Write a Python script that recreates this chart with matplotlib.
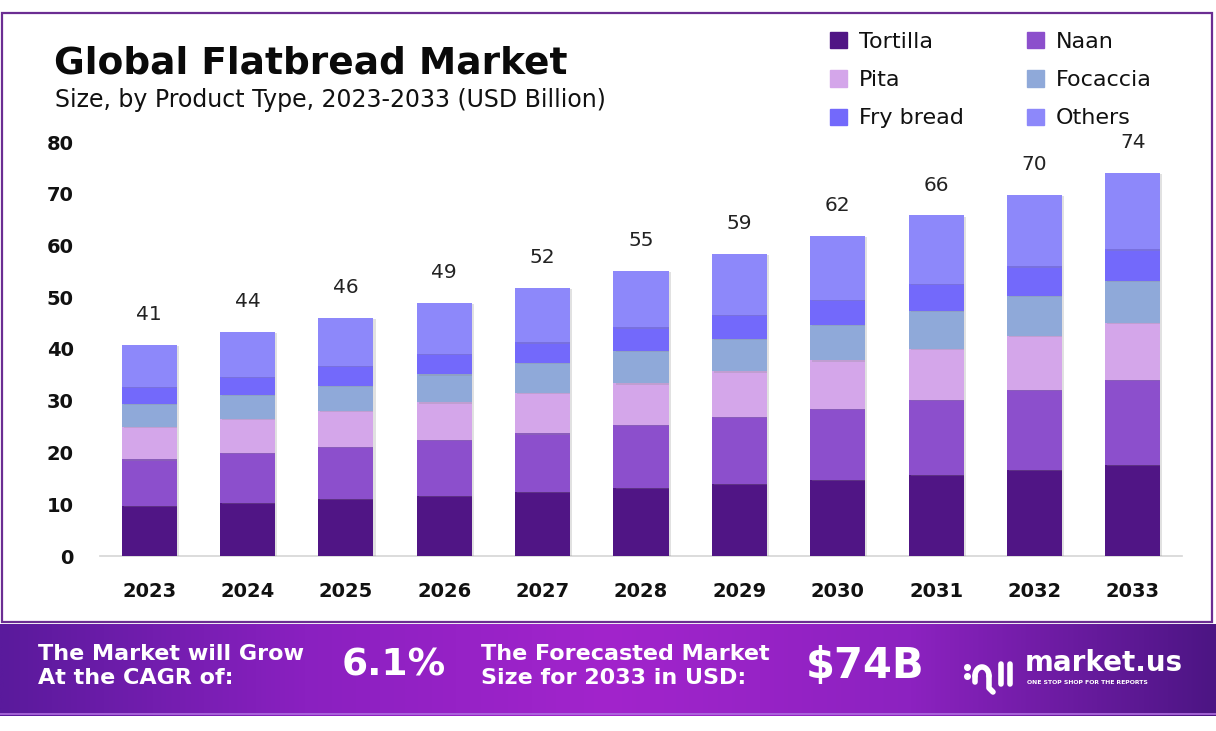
import numpy as np
import matplotlib
matplotlib.use("Agg")
import matplotlib.pyplot as plt
from matplotlib.colors import LinearSegmentedColormap
from matplotlib.patches import Rectangle, Patch
import matplotlib.patheffects as pe

plt.rcParams['font.family'] = ['DejaVu Sans']

# data (USD Billion)
years = ['2023', '2024', '2025', '2026', '2027', '2028',
         '2029', '2030', '2031', '2032', '2033']
tortilla = [9.7, 10.3, 11.0, 11.6, 12.4, 13.2, 13.9, 14.7, 15.7, 16.6, 17.6]
naan = [9.0, 9.6, 10.1, 10.8, 11.3, 12.1, 13.0, 13.7, 14.5, 15.5, 16.4]
pita = [6.3, 6.6, 7.0, 7.3, 7.8, 8.1, 8.8, 9.4, 9.8, 10.5, 11.1]
focaccia = [4.4, 4.6, 4.8, 5.4, 5.8, 6.3, 6.3, 6.9, 7.4, 7.7, 8.1]
fry_bread = [3.3, 3.5, 3.8, 4.0, 4.0, 4.5, 4.6, 4.8, 5.2, 5.7, 6.1]
others = [8.1, 8.7, 9.3, 9.8, 10.5, 10.9, 11.8, 12.4, 13.2, 13.8, 14.7]
totals = [41, 44, 46, 49, 52, 55, 59, 62, 66, 70, 74]

series = [('Tortilla', tortilla, '#501585'),
          ('Naan', naan, '#8c4fcc'),
          ('Pita', pita, '#d4a6ea'),
          ('Focaccia', focaccia, '#8fa9d9'),
          ('Fry bread', fry_bread, '#7369fb'),
          ('Others', others, '#8d88fa')]

W, H = 1216, 731
fig = plt.figure(figsize=(W / 100, H / 100), dpi=100)
fig.patch.set_facecolor('white')

# outer frame
fig.add_artist(Rectangle((1.5 / W, 1 - 622 / H), (1212 - 1.5) / W, (622 - 13) / H,
                         transform=fig.transFigure, fill=False,
                         edgecolor='#6b2d92', linewidth=1.6))

ax = fig.add_axes([100 / W, 1 - 556 / H, 1082 / W, (556 - 142) / H])
x = np.arange(len(years))
bottom = np.zeros(len(years))
handles = {}
for name, vals, col in series:
    bars = ax.bar(x, vals, 0.56, bottom=bottom, color=col, label=name, zorder=3)
    for b in bars:
        b.set_path_effects([pe.SimplePatchShadow(offset=(1.5, -1), shadow_rgbFace='#888888', alpha=0.25),
                            pe.Normal()])
    handles[name] = Patch(color=col, label=name)
    bottom += np.array(vals)

for xi, top, t in zip(x, bottom, totals):
    ax.annotate(str(t), (xi, top), xytext=(0, 15), textcoords='offset points',
                ha='center', va='bottom', fontsize=14.5, color='#222222')

ax.set_xlim(-0.5, len(years) - 0.5)
ax.set_ylim(0, 80)
ax.set_yticks(range(0, 81, 10))
ax.set_xticks(x)
ax.set_xticklabels(years)
ax.tick_params(axis='both', length=0, labelsize=14, colors='#111111')
ax.tick_params(axis='y', pad=19)
ax.tick_params(axis='x', pad=19)
for lab in ax.get_xticklabels() + ax.get_yticklabels():
    lab.set_fontweight('bold')
for s in ['top', 'right', 'left']:
    ax.spines[s].set_visible(False)
ax.spines['bottom'].set_color('#d5d5d5')
ax.spines['bottom'].set_linewidth(1.2)

# titles
fig.text(54 / W, 1 - 64 / H, 'Global Flatbread Market', fontsize=27, fontweight='bold',
         va='center', ha='left', color='#0a0a0a')
fig.text(55 / W, 1 - 100 / H, 'Size, by Product Type, 2023-2033 (USD Billion)', fontsize=17,
         va='center', ha='left', color='#111111')

# legend
order = ['Tortilla', 'Pita', 'Fry bread', 'Naan', 'Focaccia', 'Others']
fig.legend([handles[n] for n in order], order, ncol=2, loc='upper left',
           bbox_to_anchor=(810 / W, 1 - 12 / H), frameon=False, fontsize=16,
           handlelength=0.75, handleheight=0.75, handletextpad=0.55,
           columnspacing=2.85, labelspacing=0.82, labelcolor='#111111')

# footer banner
bax = fig.add_axes([0, 1 - 716 / H, 1, (716 - 624) / H])
cmap = LinearSegmentedColormap.from_list('banner', ['#5a1a9c', '#8a20c0', '#a224cc', '#8c22c0', '#4c1584'])
grad = np.linspace(0, 1, 512).reshape(1, -1)
bax.imshow(grad, aspect='auto', cmap=cmap, extent=[0, 1, 0, 1])
bax.set_xlim(0, 1)
bax.set_ylim(0, 1)
bax.axis('off')
bax.axhline(0.02, color='#b070e0', linewidth=1.2)

txt_kw = dict(color='white', fontweight='bold', va='center', ha='left')
fig.text(38 / W, 1 - 666 / H, 'The Market will Grow\nAt the CAGR of:', fontsize=16,
         linespacing=1.3, **txt_kw)
fig.text(342 / W, 1 - 666 / H, '6.1%', fontsize=27, **txt_kw)
fig.text(481 / W, 1 - 666 / H, 'The Forecasted Market\nSize for 2033 in USD:', fontsize=16,
         linespacing=1.3, **txt_kw)
fig.text(806 / W, 1 - 666 / H, '$74B', fontsize=30, **txt_kw)

# logo
lax = fig.add_axes([960 / W, 1 - 700 / H, 60 / W, 50 / H])
lax.set_xlim(0, 60)
lax.set_ylim(0, 50)
lax.axis('off')
lax.plot([7], [24], 'o', color='white', markersize=4)
lax.plot([7], [33], 'o', color='white', markersize=4)
th = np.linspace(np.pi, 0, 30)
lax.plot(22 + 7 * np.cos(th), 24 + 9 * np.sin(th), color='white', linewidth=4, solid_capstyle='round')
lax.plot([15, 15], [24, 18], color='white', linewidth=4, solid_capstyle='round')
lax.plot([29, 29, 33], [24, 12, 8], color='white', linewidth=4, solid_capstyle='round')
lax.plot([41, 41], [16, 36], color='white', linewidth=4, solid_capstyle='round')
lax.plot([50, 50], [16, 36], color='white', linewidth=4, solid_capstyle='round')
fig.text(1025 / W, 1 - 663 / H, 'market.us', fontsize=20, **txt_kw)
fig.text(1027 / W, 1 - 683 / H, 'ONE STOP SHOP FOR THE REPORTS', fontsize=4.4,
         color='white', fontweight='bold', va='center', ha='left')

fig.savefig('out.png', dpi=100, facecolor='white')
